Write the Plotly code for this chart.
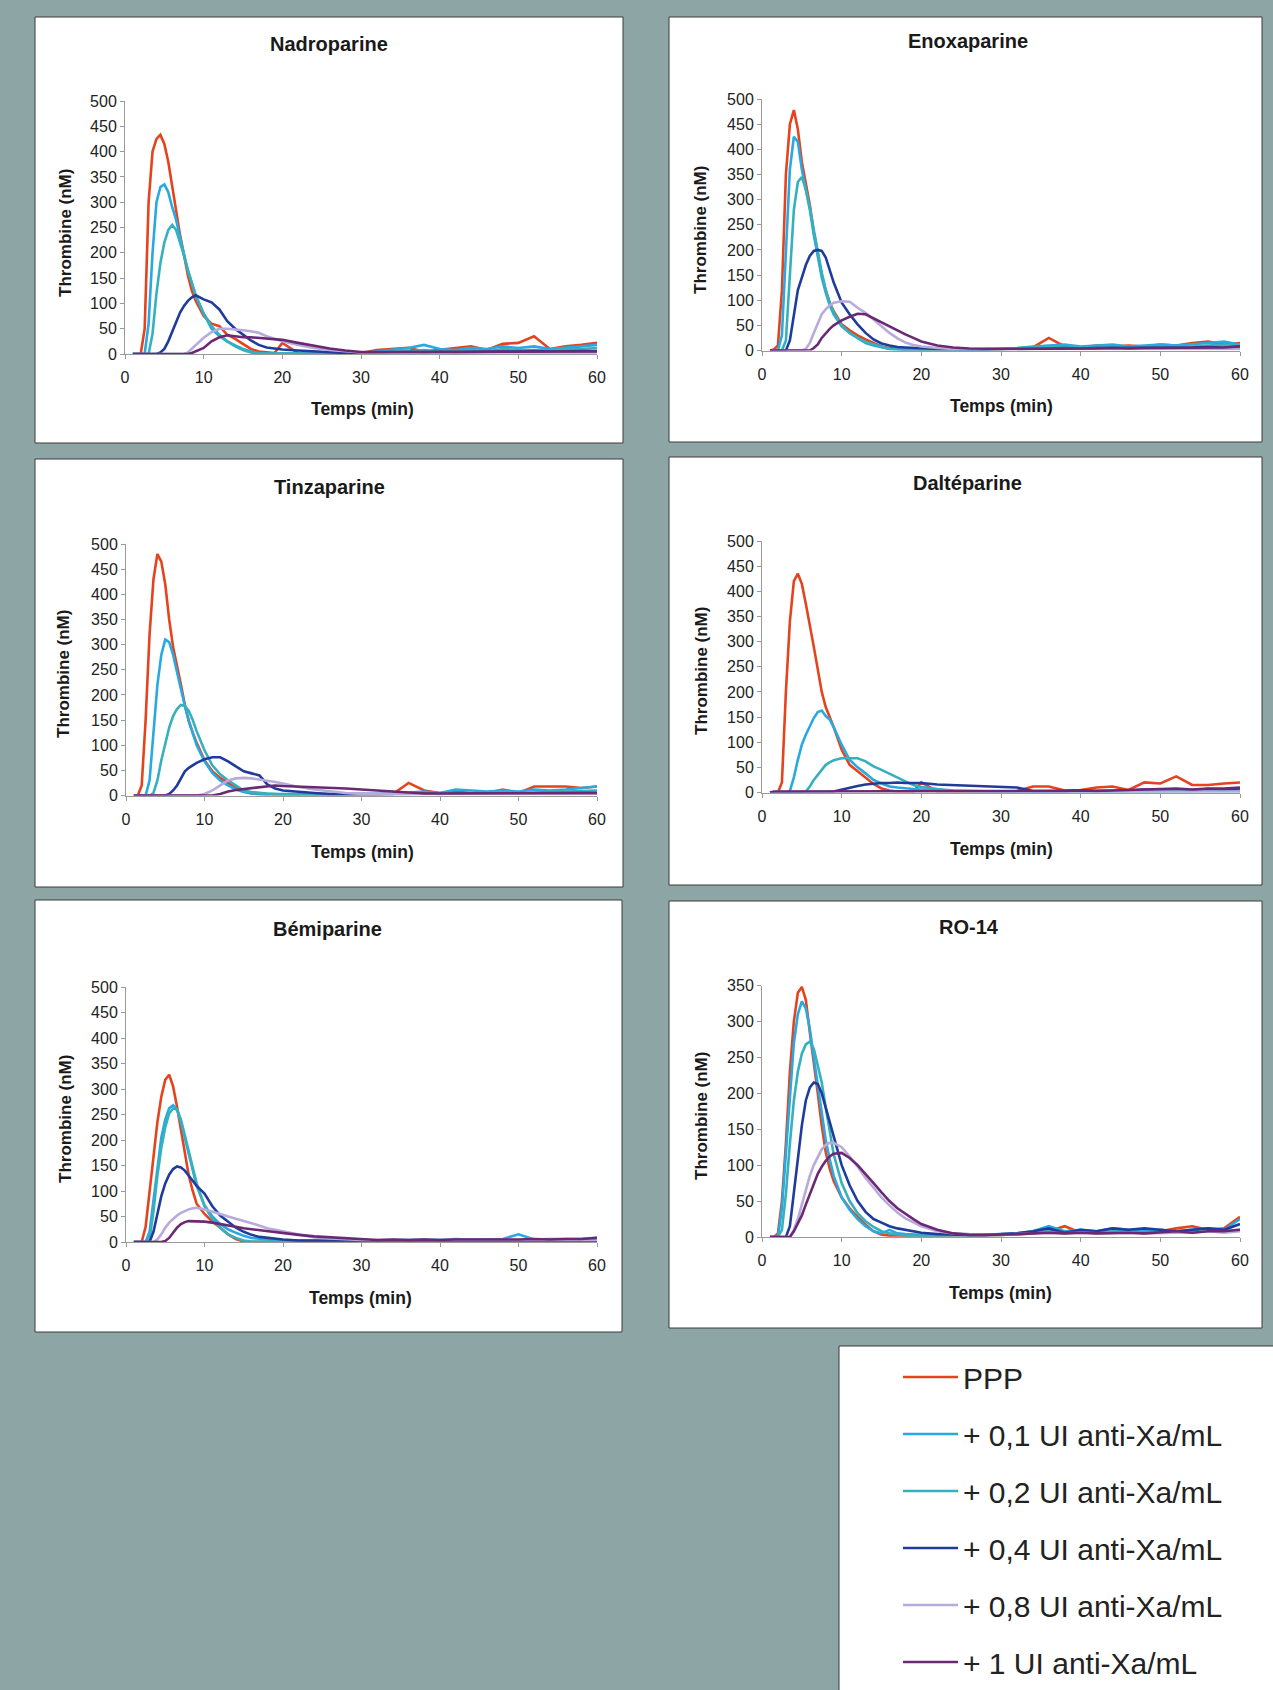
import plotly.graph_objects as go

W, H = 1273, 1690
FONT = "Liberation Sans, Arial, sans-serif"

# time grid (min)
T = [1, 1.5, 2, 2.5, 3, 3.5, 4, 4.5, 5, 5.5, 6, 6.5, 7, 7.5, 8, 8.5, 9,
     10, 11, 12, 13, 14, 15, 16, 17, 18, 19, 20, 22, 24, 26, 28, 30,
     32, 34, 36, 38, 40, 42, 44, 46, 48, 50, 52, 54, 56, 58, 60]

SERIES = ["PPP", "+ 0,1 UI anti-Xa/mL", "+ 0,2 UI anti-Xa/mL",
          "+ 0,4 UI anti-Xa/mL", "+ 0,8 UI anti-Xa/mL", "+ 1 UI anti-Xa/mL"]
COLORS = ["#E4431E", "#29A9E1", "#36B0BC", "#1F3C9C", "#B8AADB", "#6B2874"]

# ---- Nadroparine
N_PPP = [0,0,0,50,300,400,425,433,415,380,330,280,235,195,155,125,105, 75,60,55,38,30,20,10,5,3,2,22,2,1,1,1,2, 8,10,12,5,8,12,15,8,20,22,35,10,15,18,22]
N_01 = [0,0,0,0,60,200,300,330,335,320,290,265,230,195,165,140,115, 80,50,35,25,17,10,5,2,1,1,1,1,1,1,1,2, 5,8,12,18,10,8,12,10,15,12,15,10,12,15,18]
N_02 = [0,0,0,0,0,40,120,180,220,245,255,245,220,195,165,140,115, 80,55,38,25,15,8,3,1,1,1,1,1,1,1,1,1, 3,5,5,8,5,5,8,5,10,8,8,8,10,10,12]
N_04 = [0,0,0,0,0,0,0,3,10,25,45,65,82,95,105,112,116, 108,102,88,65,50,38,27,18,13,11,9,7,5,3,2,2, 3,3,4,3,4,3,4,5,5,5,6,5,6,6,6]
N_08 = [0,0,0,0,0,0,0,0,0,0,0,0,0,0,3,10,18, 32,43,50,50,49,47,45,42,35,30,25,18,12,8,5,3, 3,3,3,3,3,3,3,3,3,3,3,3,3,3,3]
N_1 = [0,0,0,0,0,0,0,0,0,0,0,0,0,0,0,2,5, 12,25,33,37,35,33,33,32,31,30,28,22,16,11,7,4, 4,4,5,4,5,4,5,5,4,5,5,4,5,5,5]

# ---- Enoxaparine
E_PPP = [0,2,10,120,350,450,478,440,375,330,290,235,190,150,120,95,78, 52,40,30,22,15,8,5,3,2,2,2,2,2,2,2,3, 4,6,25,8,6,10,8,10,8,12,10,15,18,12,15]
E_01 = [0,0,0,30,200,360,425,415,360,320,280,230,185,145,115,90,72, 48,35,25,15,10,6,3,2,2,2,2,2,2,2,3,4, 5,8,10,12,8,10,12,8,10,12,10,12,15,18,12]
E_02 = [0,0,0,0,20,150,280,335,345,320,285,240,195,155,120,95,75, 50,35,25,17,12,7,3,2,1,1,1,1,1,2,2,3, 4,5,6,8,6,5,8,6,8,6,8,8,10,12,10]
E_04 = [0,0,0,0,0,20,70,120,145,170,188,198,200,198,185,160,135, 95,72,52,35,22,14,10,7,6,5,4,3,3,2,2,3, 3,4,4,5,4,5,5,6,5,6,6,6,7,6,8]
E_08 = [0,0,0,0,0,0,0,0,0,3,15,35,55,72,82,90,95, 98,97,85,75,62,48,35,24,16,11,8,5,3,3,3,3, 3,3,3,3,3,3,3,3,3,3,3,3,3,3,3]
E_1 = [0,0,0,0,0,0,0,0,0,0,0,5,12,25,35,43,50, 60,67,73,72,64,55,48,40,32,25,18,10,6,4,3,3, 3,3,4,3,4,4,5,4,5,5,6,5,6,6,8]

# ---- Tinzaparine
T_PPP = [0,0,20,150,320,430,480,465,420,350,295,260,220,180,148,125,105, 70,48,35,25,15,8,4,2,1,1,1,1,1,1,1,1, 2,3,25,10,5,8,5,5,12,5,18,18,18,15,18]
T_01 = [0,0,0,0,30,130,220,280,310,305,280,245,210,178,148,122,100, 68,45,30,20,12,7,4,3,3,3,3,3,2,2,2,2, 3,4,6,8,5,12,10,8,10,8,12,10,12,15,18]
T_02 = [0,0,0,0,0,5,30,70,105,135,158,172,180,178,168,150,128, 90,60,42,30,20,10,7,5,4,3,2,2,2,2,2,2, 3,3,4,5,4,5,4,5,6,5,6,6,8,8,10]
T_04 = [0,0,0,0,0,0,0,0,0,3,10,20,35,48,55,60,65, 72,76,76,68,58,48,44,40,22,14,10,7,5,3,3,2, 3,3,3,4,3,4,4,4,4,5,4,5,5,5,5]
T_08 = [0,0,0,0,0,0,0,0,0,0,0,0,0,0,0,0,0, 3,10,20,30,34,35,34,32,30,27,24,17,12,8,5,3, 3,3,3,3,3,3,3,3,3,3,3,3,3,3,3]
T_1 = [0,0,0,0,0,0,0,0,0,0,0,0,0,0,0,0,0, 0,0,3,8,11,13,15,17,19,20,19,18,17,16,14,12, 10,8,5,4,4,4,4,4,4,4,5,4,5,5,5]

# ---- Daltéparine
D_PPP = [0,0,0,20,200,340,420,435,415,375,335,290,245,200,170,150,130, 85,55,42,30,17,8,4,2,2,2,20,2,2,2,2,2, 3,12,12,4,5,10,12,5,20,18,32,15,15,18,20]
D_01 = [0,0,0,0,0,3,30,65,95,115,132,148,160,163,152,145,130, 95,65,50,38,25,18,12,10,8,7,6,4,3,3,2,2, 2,2,2,3,2,3,3,3,3,3,3,3,4,4,4]
D_02 = [0,0,0,0,0,0,0,0,0,2,12,25,35,45,55,60,64, 68,68,68,62,52,45,37,30,22,15,11,7,4,3,2,2, 2,2,2,2,2,2,2,2,2,2,2,2,2,2,2]
D_04 = [0,0,0,0,0,0,0,0,0,0,0,0,0,0,0,0,2, 6,10,13,16,18,19,19,20,19,19,19,16,15,14,13,12, 10,3,3,3,3,4,4,4,6,5,6,5,7,6,8]
D_08 = [0,1,1,1,1,1,1,1,1,1,1,1,1,1,1,1,1, 1,1,1,1,1,1,1,1,1,1,1,1,1,1,1,1, 2,2,2,2,2,2,2,2,2,2,2,2,2,2,2]
D_1 = [0,2,2,2,2,2,2,2,2,2,2,2,2,2,2,2,2, 2,2,2,2,2,2,2,2,2,2,2,2,2,2,2,2, 3,3,3,3,4,3,4,5,5,6,8,6,8,8,10]

# ---- Bémiparine
B_PPP = [0,0,0,30,100,175,235,285,318,328,305,265,220,175,130,100,75, 55,40,28,15,6,1,0,0,0,0,0,0,0,0,0,0, 0,0,0,0,0,0,0,0,0,0,0,0,0,0,0]
B_01 = [0,0,0,0,20,80,150,205,240,262,268,260,235,205,170,140,110, 72,50,35,25,18,12,8,6,5,4,3,3,2,2,2,3, 3,4,4,5,4,6,5,5,6,15,5,6,6,6,8]
B_02 = [0,0,0,0,5,60,130,185,225,252,262,260,240,210,175,145,115, 70,45,28,15,8,3,1,1,1,1,1,1,1,1,1,1, 2,2,2,2,2,2,2,2,2,2,2,2,2,2,2]
B_04 = [0,0,0,0,0,20,55,90,115,132,143,148,146,140,130,120,110, 95,70,52,40,28,20,14,10,8,6,5,3,3,2,2,2, 3,3,3,3,3,3,3,3,3,3,3,3,3,3,3]
B_08 = [0,0,0,0,0,0,5,15,28,38,45,52,57,61,64,66,67, 64,60,55,50,45,41,37,32,27,24,21,14,9,7,5,4, 4,4,4,4,4,4,4,4,4,4,4,4,4,4,4]
B_1 = [0,0,0,0,0,0,0,0,2,8,18,28,35,39,41,41,41, 40,38,35,32,29,27,25,23,21,19,17,14,11,9,7,5, 4,5,4,5,4,5,5,4,5,5,6,5,6,6,8]

# ---- RO-14
R_PPP = [0,0,5,50,130,230,300,340,348,330,285,245,200,155,118,95,78, 55,40,28,17,8,3,2,2,2,2,2,2,2,2,3,3, 4,5,8,15,6,8,6,8,8,8,12,15,10,12,28]
R_01 = [0,0,0,40,120,200,270,310,328,318,290,250,210,170,135,108,85, 55,38,25,15,8,5,10,5,4,3,3,3,3,3,3,4, 5,8,15,8,10,8,12,10,8,10,8,10,12,10,25]
R_02 = [0,0,0,10,60,130,190,230,255,268,272,262,240,215,180,145,115, 75,50,33,22,14,8,5,3,2,2,2,2,2,2,3,3, 4,6,8,6,8,6,8,8,6,8,6,8,10,8,10]
R_04 = [0,0,0,0,0,15,60,110,155,190,208,215,213,200,180,160,140, 100,72,50,35,25,20,15,12,10,8,6,4,3,3,3,4, 5,8,12,6,10,8,12,10,12,10,8,10,12,10,18]
R_08 = [0,0,0,0,0,0,10,25,45,65,85,100,112,122,128,131,131, 125,112,98,82,68,55,44,34,26,20,15,8,5,4,3,3, 4,5,6,5,6,5,6,6,5,6,6,6,8,6,8]
R_1 = [0,0,0,0,0,0,8,18,30,45,60,75,88,98,106,112,116, 117,110,100,88,75,62,50,40,32,25,18,10,5,3,3,3, 4,5,6,5,6,5,6,6,5,6,8,6,8,8,10]

TITLES = ["Nadroparine", "Enoxaparine", "Tinzaparine", "Daltéparine", "Bémiparine", "RO-14"]
YMAX = [500, 500, 500, 500, 500, 350]
DATA = [
    [N_PPP, N_01, N_02, N_04, N_08, N_1],
    [E_PPP, E_01, E_02, E_04, E_08, E_1],
    [T_PPP, T_01, T_02, T_04, T_08, T_1],
    [D_PPP, D_01, D_02, D_04, D_08, D_1],
    [B_PPP, B_01, B_02, B_04, B_08, B_1],
    [R_PPP, R_01, R_02, R_04, R_08, R_1],
]
X_LABEL = "Temps (min)"
Y_LABEL = "Thrombine (nM)"

# layout geometry in pixels (left, right, top, bottom)
PLOT_PX = [(125, 597, 101, 354), (762, 1240, 99, 350.5),
           (126, 597, 544, 795.5), (762, 1240, 541, 792.5),
           (126, 597, 987, 1242), (762, 1240, 985.5, 1237)]
BOX_PX = [(35, 623, 17, 443), (669, 1262, 17, 442),
          (35, 623, 459, 887), (669, 1262, 457, 885),
          (35, 622, 900, 1332), (669, 1262, 901, 1328)]
TITLE_PX = [(329, 44), (968, 41.5), (329, 486.5), (967.5, 483.5), (328, 929), (969, 927)]
XT_PX = [(362, 409), (1001, 406.5), (362, 851.5), (1001, 849), (360.5, 1298), (1000, 1293)]
YT_PX = [(66, 233), (700, 230), (64, 674), (701, 671), (65, 1119), (701, 1116)]
LEG_BOX = (839, 1280, 1346, 1700)

def px(x):
    return x / W

def py(y):
    return 1 - y / H

fig = go.Figure()
layout = dict(width=W, height=H, margin=dict(l=0, r=0, t=0, b=0, autoexpand=False),
              paper_bgcolor="#8EA5A6", plot_bgcolor="rgba(0,0,0,0)",
              font=dict(family=FONT, color="#222222"),
              showlegend=True)
shapes = []
annotations = []

for i in range(6):
    k = "" if i == 0 else str(i + 1)
    l, r, t, b = PLOT_PX[i]
    layout["xaxis" + k] = dict(domain=[px(l), px(r)], range=[0, 60], dtick=10, tick0=0,
                               anchor="y" + k, showline=True, linecolor="#9a9a9a", linewidth=1,
                               ticks="outside", ticklen=4, tickcolor="#9a9a9a",
                               showgrid=False, zeroline=False,
                               tickfont=dict(size=16, family=FONT, color="#222"),
                               ticklabelstandoff=5, fixedrange=True)
    layout["yaxis" + k] = dict(domain=[py(b), py(t)], range=[0, YMAX[i]], dtick=50, tick0=0,
                               anchor="x" + k, showline=True, linecolor="#9a9a9a", linewidth=1,
                               ticks="outside", ticklen=4, tickcolor="#9a9a9a",
                               showgrid=False, zeroline=False,
                               tickfont=dict(size=16, family=FONT, color="#222"),
                               fixedrange=True)
    bl, br, bt, bb = BOX_PX[i]
    shapes.append(dict(type="rect", xref="paper", yref="paper", layer="below",
                       x0=px(bl), x1=px(br), y0=py(bb), y1=py(bt),
                       fillcolor="white", line=dict(color="#3a3a3a", width=1)))
    tx, ty = TITLE_PX[i]
    annotations.append(dict(text="<b>%s</b>" % TITLES[i], x=px(tx), y=py(ty), xref="paper", yref="paper",
                            showarrow=False, xanchor="center", yanchor="middle",
                            font=dict(size=20, family=FONT, color="#1a1a1a")))
    xx, xy = XT_PX[i]
    annotations.append(dict(text="<b>%s</b>" % X_LABEL, x=px(xx), y=py(xy), xref="paper", yref="paper",
                            showarrow=False, xanchor="center", yanchor="middle",
                            font=dict(size=17.5, family=FONT, color="#1a1a1a")))
    yx, yy = YT_PX[i]
    annotations.append(dict(text="<b>%s</b>" % Y_LABEL, x=px(yx), y=py(yy), xref="paper", yref="paper",
                            showarrow=False, xanchor="center", yanchor="middle", textangle=-90,
                            font=dict(size=17, family=FONT, color="#1a1a1a")))
    for j in range(6):
        fig.add_trace(go.Scatter(x=T, y=DATA[i][j], mode="lines", name=SERIES[j],
                                 line=dict(color=COLORS[j], width=2.6),
                                 xaxis="x" + k, yaxis="y" + k,
                                 legendgroup="g%d" % j, showlegend=(i == 0),
                                 hoverinfo="skip"))

ll, lr, lt, lb = LEG_BOX
shapes.append(dict(type="rect", xref="paper", yref="paper", layer="below",
                   x0=px(ll), x1=px(lr), y0=py(lb), y1=py(lt),
                   fillcolor="white", line=dict(color="#3a3a3a", width=1)))

layout["shapes"] = shapes
layout["annotations"] = annotations
layout["legend"] = dict(x=px(898), y=py(1351), xanchor="left", yanchor="top",
                        bgcolor="rgba(0,0,0,0)", borderwidth=0,
                        font=dict(size=30, family=FONT, color="#222"),
                        itemwidth=55, tracegroupgap=15, traceorder="grouped")
fig.update_layout(**layout)

POST = ("document.documentElement.style.margin='0';"
        "document.documentElement.style.padding='0';"
        "document.documentElement.style.overflow='hidden';"
        "document.body.style.margin='0';"
        "document.body.style.padding='0';"
        "document.body.style.overflow='hidden';"
        "document.body.style.width='%dpx';document.body.style.height='%dpx';"
        "var gd=document.getElementsByClassName('plotly-graph-div')[0];"
        "gd.style.position='absolute';gd.style.left='0px';gd.style.top='0px';"
        "window.scrollTo(0,0);") % (W, H)
fig.write_html("out.html", config={"displayModeBar": False}, post_script=POST)
